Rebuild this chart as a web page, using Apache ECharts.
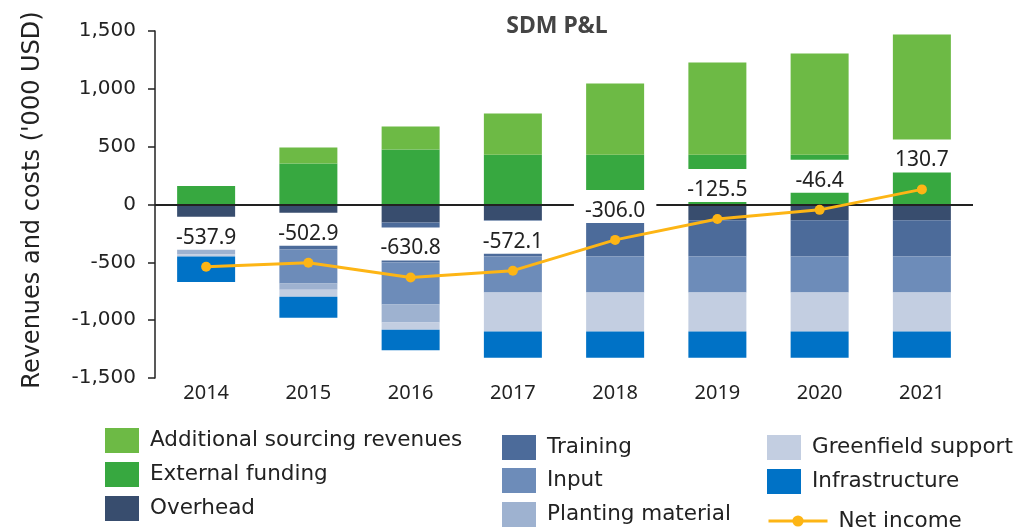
<!DOCTYPE html>
<html>
<head>
<meta charset="utf-8">
<title>SDM P&amp;L</title>
<script src="https://cdn.jsdelivr.net/npm/echarts@6/dist/echarts.min.js"></script>
<style>
  html, body { margin: 0; padding: 0; background: #fff; }
  #chart { width: 1019px; height: 527px; }
</style>
</head>
<body>
<div id="chart"></div>
<script>
// values in '000 USD
const years = ['2014', '2015', '2016', '2017', '2018', '2019', '2020', '2021']
const externalFunding = [160, 354, 475, 430, 430, 430, 430, 430]
const additionalSourcing = [0, 139, 199, 357, 617, 798, 876, 1040]
const overhead = [-110, -120, -156, -136, -136, -136, -136, -136]
const training = [-130, -270, -346, -314, -314, -314, -314, -314]
const input = [-140, -294, -363, -311, -311, -311, -311, -311]
const plantingMaterial = [-52, -52, -156, 0, 0, 0, 0, 0]
const greenfieldSupport = [-17, -61, -61, -338, -338, -338, -338, -338]
const infrastructure = [-222, -182, -179, -225, -225, -225, -225, -225]
const netIncome = [-537.9, -502.9, -630.8, -572.1, -306.0, -125.5, -46.4, 130.7]

const font = 'Noto Sans'
const wideFont = 'DejaVu Sans'
const textColor = '#222'

const chart = echarts.init(document.getElementById('chart'))

const barSeries = (name, data, color) => ({
  name,
  type: 'bar',
  stack: 'pl',
  barWidth: 58,
  data,
  itemStyle: { color },
  emphasis: { disabled: true }
})

const bars = [
  barSeries('External funding', externalFunding, '#37a840'),
  barSeries('Additional sourcing revenues', additionalSourcing, '#6dba45'),
  barSeries('Overhead', overhead, '#384d6e'),
  barSeries('Training', training, '#4c6b9a'),
  barSeries('Input', input, '#6d8cb9'),
  barSeries('Planting material', plantingMaterial, '#9eb2d0'),
  barSeries('Greenfield support', greenfieldSupport, '#c3cee1'),
  barSeries('Infrastructure', infrastructure, '#0072c6')
]

// zero line drawn over the bars
bars[0].markLine = {
  silent: true,
  symbol: 'none',
  z: 3,
  label: { show: false },
  lineStyle: { color: '#222', width: 2, type: 'solid' },
  data: [{ yAxis: 0 }]
}

// one legend per entry so the three columns sit where they should
const legendItem = (name, left, top, extra) => Object.assign({
  left,
  top,
  padding: 0,
  itemWidth: 34,
  itemHeight: 25,
  icon: 'rect',
  selectedMode: false,
  textStyle: { fontFamily: wideFont, fontSize: 21.5, color: textColor, padding: [2, 0, 0, 6] },
  data: [name]
}, extra || {})

const option = {
  animation: false,
  title: {
    text: 'SDM P&L',
    left: 552,
    top: 10,
    textAlign: 'center',
    textStyle: { fontFamily: font, fontSize: 23, fontWeight: 'bold', color: '#444' }
  },
  legend: [
    legendItem('Additional sourcing revenues', 105, 428),
    legendItem('External funding', 105, 462),
    legendItem('Overhead', 105, 496),
    legendItem('Training', 502, 435),
    legendItem('Input', 502, 468),
    legendItem('Planting material', 502, 502),
    legendItem('Greenfield support', 767, 435),
    legendItem('Infrastructure', 767, 469),
    legendItem('Net income', 767, 510, {
      itemWidth: 59,
      itemHeight: 14,
      icon: null,
      lineStyle: { width: 3 }
    })
  ],
  grid: {
    left: 155,
    right: 46,
    top: 31,
    bottom: 149
  },
  xAxis: {
    type: 'category',
    data: years,
    position: 'bottom',
    axisLine: { show: false, onZero: false },
    axisTick: { show: false },
    axisLabel: { fontFamily: font, fontSize: 20, color: textColor, margin: 5 }
  },
  yAxis: {
    type: 'value',
    min: -1500,
    max: 1500,
    interval: 500,
    name: "Revenues and costs ('000 USD)",
    nameLocation: 'middle',
    nameGap: 110,
    nameTextStyle: { fontFamily: wideFont, fontSize: 24, color: textColor, padding: [0, 0, 0, 9] },
    axisLine: { show: true, lineStyle: { color: '#222', width: 1.5 } },
    axisTick: { show: true, length: 7, lineStyle: { color: '#222', width: 1.5 } },
    splitLine: { show: false },
    axisLabel: {
      fontFamily: wideFont,
      fontSize: 20,
      color: textColor,
      margin: 19,
      formatter: v => v.toLocaleString('en-US')
    }
  },
  series: bars.concat([{
    name: 'Net income',
    type: 'line',
    z: 10,
    data: netIncome,
    symbol: 'circle',
    symbolSize: 10,
    lineStyle: { color: '#fdb515', width: 3 },
    itemStyle: { color: '#fdb515' },
    emphasis: { disabled: true },
    label: {
      show: true,
      position: 'top',
      distance: 12,
      fontFamily: font,
      fontSize: 21,
      color: textColor,
      backgroundColor: '#fff',
      lineHeight: 24,
      padding: [9, 11, 0, 11],
      formatter: p => p.value.toFixed(1)
    }
  }])
}

chart.setOption(option)

window.addEventListener('resize', () => chart.resize())
</script>
</body>
</html>
